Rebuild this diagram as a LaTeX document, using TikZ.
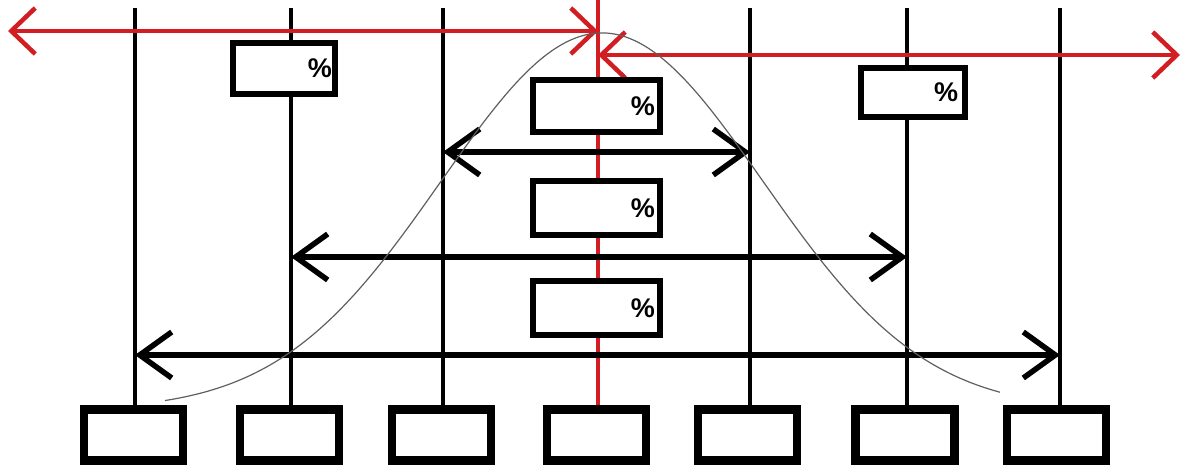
\documentclass[tikz,border=0pt]{standalone}
\usepackage{fontspec}
\setsansfont{Liberation Sans}
\usetikzlibrary{arrows.meta}
\definecolor{myred}{RGB}{210,30,35}
\definecolor{curvegray}{RGB}{95,95,95}
\begin{document}
\begin{tikzpicture}[x=1pt,y=-1pt,
  vline/.style={line width=4.5pt,draw=black},
  redline/.style={line width=4.5pt,draw=myred},
  blackarrow/.style={line width=5.5pt,draw=black,
    {Straight Barb[length=32pt,width=46pt,line width=5.5pt]}-{Straight Barb[length=32pt,width=46pt,line width=5.5pt]}},
  redarrow/.style={line width=4.5pt,draw=myred,
    {Straight Barb[length=24pt,width=46pt,line width=4.5pt]}-{Straight Barb[length=24pt,width=46pt,line width=4.5pt]}},
  pbox/.style={draw=black,line width=6pt,fill=white,inner sep=0pt,align=right,
    font=\sffamily\bfseries\fontsize{27}{30}\selectfont},
  bbox/.style={draw=black,line width=8.5pt,fill=white,inner sep=0pt,
    minimum width=99pt,minimum height=51pt},
  gauss/.style={line width=1.2pt,draw=curvegray}
]
\useasboundingbox (0,0) rectangle (1183,471);

% top ends of the vertical lines
\coordinate (t1) at (135,8);
\coordinate (t2) at (291,8);
\coordinate (t3) at (443,8);
\coordinate (t4) at (598,0);
\coordinate (t5) at (750,8);
\coordinate (t6) at (907,8);
\coordinate (t7) at (1060,8);

% bottom boxes
\node[bbox] (b1) at (133.5,435) {};
\node[bbox] (b2) at (289.5,435) {};
\node[bbox] (b3) at (441.5,435) {};
\node[bbox] (b4) at (596.5,435) {};
\node[bbox] (b5) at (747.5,435) {};
\node[bbox] (b6) at (905,435) {};
\node[bbox] (b7) at (1056.5,435) {};

% vertical lines
\draw[vline] (t1) -- (t1 |- b1.north);
\draw[vline] (t2) -- (t2 |- b2.north);
\draw[vline] (t3) -- (t3 |- b3.north);
\draw[redline] (t4) -- (t4 |- b4.north);
\draw[vline] (t5) -- (t5 |- b5.north);
\draw[vline] (t6) -- (t6 |- b6.north);
\draw[vline] (t7) -- (t7 |- b7.north);

% red arrows
\coordinate (rl) at (8,31);
\coordinate (rm) at (598,31);
\coordinate (rn) at (598,55);
\coordinate (rr) at (1180,55);
\draw[redarrow] (rl) -- (rm);
\draw[redarrow] (rn) -- (rr);

% black arrows
\coordinate (a1l) at (443,152);
\coordinate (a1r) at (750,152);
\coordinate (a2l) at (291,257);
\coordinate (a2r) at (907,257);
\coordinate (a3l) at (135,355);
\coordinate (a3r) at (1060,355);
\draw[blackarrow] (a1l) -- (a1r);
\draw[blackarrow] (a2l) -- (a2r);
\draw[blackarrow] (a3l) -- (a3r);

% bell curve
\draw[gauss] plot[domain=165:1000,samples=120,smooth]
  (\x,{410-377*exp(-0.5*((\x-602)/161)^2)});

% percentage boxes
\node[pbox,minimum width=102pt,minimum height=51pt,text width=96pt] (pA) at (284,68.5) {\%};
\node[pbox,minimum width=127pt,minimum height=52pt,text width=117pt] (pB) at (596.5,106) {\%};
\node[pbox,minimum width=104pt,minimum height=49pt,text width=90pt] (pC) at (913,92.5) {\%};
\node[pbox,minimum width=127pt,minimum height=54pt,text width=117pt] (pD) at (596.5,208) {\%};
\node[pbox,minimum width=127pt,minimum height=54pt,text width=117pt] (pE) at (596.5,308) {\%};
\end{tikzpicture}
\end{document}
